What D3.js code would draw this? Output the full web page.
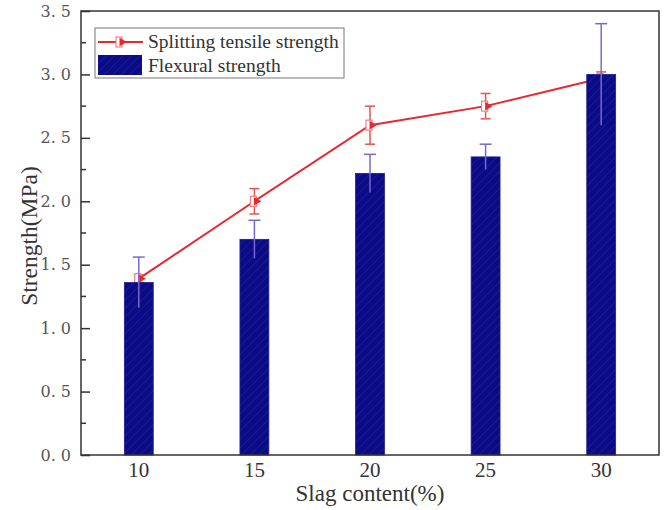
<!DOCTYPE html>
<html>
<head>
<meta charset="utf-8">
<script src="https://cdn.jsdelivr.net/npm/d3@7"></script>
<style>
  body { margin: 0; background: #fff; }
</style>
</head>
<body>
<svg id="canvas" width="667" height="510" font-family='"Liberation Serif", "Times New Roman", serif'></svg>
<script>
let categories = [10, 15, 20, 25, 30];
let flexural = [1.36, 1.70, 2.22, 2.35, 3.00];
let flexuralErr = [0.20, 0.15, 0.15, 0.10, 0.40];
let splitting = [1.39, 2.00, 2.60, 2.75, 2.97];
let splittingErr = [0.03, 0.10, 0.15, 0.10, 0.05];
let yTicks = [0, 0.5, 1.0, 1.5, 2.0, 2.5, 3.0, 3.5];

let svg = d3.select('#canvas');
let plotLeft = 81, plotRight = 659, plotTop = 11, plotBottom = 455;
let serif = '"Liberation Serif", "Times New Roman", serif';

let x = d3.scaleBand()
    .domain(categories)
    .range([plotLeft, plotRight])
    .paddingInner(0.75)
    .paddingOuter(0.375);
let y = d3.scaleLinear().domain([0, 3.5]).range([plotBottom, plotTop]);

let cx = (d) => x(d) + x.bandwidth() / 2;

// hatch pattern for the bars
let defs = svg.append('defs');
let pat = defs.append('pattern')
    .attr('id', 'hatch')
    .attr('patternUnits', 'userSpaceOnUse')
    .attr('width', 6).attr('height', 6)
    .attr('patternTransform', 'rotate(45)');
pat.append('rect').attr('width', 6).attr('height', 6).attr('fill', '#0b0b86');
pat.append('line').attr('x1', 0).attr('y1', 0).attr('x2', 0).attr('y2', 6)
    .attr('stroke', '#1f1fa0').attr('stroke-width', 1.5);

// axes
let yAxis = d3.axisLeft(y).tickValues(yTicks).tickSizeInner(-9).tickSizeOuter(0).tickPadding(10)
    .tickFormat((d) => d.toFixed(1).replace('.', '. '));
let gy = svg.append('g').attr('transform', `translate(${plotLeft},0)`).call(yAxis);
gy.select('.domain').remove();
gy.selectAll('line').attr('stroke', '#333').attr('stroke-width', 1.5);
gy.attr('font-family', '"DejaVu Serif", serif');
gy.selectAll('text').attr('font-size', 16).attr('fill', '#555');

// minor ticks
svg.append('g').selectAll('line')
    .data(d3.range(0.25, 3.5, 0.5))
    .enter().append('line')
    .attr('x1', plotLeft).attr('x2', plotLeft + 5)
    .attr('y1', (d) => y(d)).attr('y2', (d) => y(d))
    .attr('stroke', '#333').attr('stroke-width', 1.5);

let xAxis = d3.axisBottom(x).tickSize(0).tickPadding(7);
let gx = svg.append('g').attr('transform', `translate(0,${plotBottom})`).call(xAxis);
gx.select('.domain').remove();
gx.attr('font-family', serif);
gx.selectAll('text').attr('font-size', 21).attr('fill', '#333');

// splitting tensile line
let line = d3.line().x((d, i) => cx(categories[i])).y((d) => y(d));
svg.append('path')
    .datum(splitting)
    .attr('d', line)
    .attr('fill', 'none')
    .attr('stroke', '#e8282c')
    .attr('stroke-width', 2);

let sErr = svg.append('g').selectAll('g')
    .data(splitting)
    .enter().append('g')
    .attr('stroke', '#e25555').attr('stroke-width', 1.5);
sErr.append('line')
    .attr('x1', (d, i) => cx(categories[i])).attr('x2', (d, i) => cx(categories[i]))
    .attr('y1', (d, i) => y(d + splittingErr[i])).attr('y2', (d, i) => y(d - splittingErr[i]));
sErr.append('line')
    .attr('x1', (d, i) => cx(categories[i]) - 5).attr('x2', (d, i) => cx(categories[i]) + 5)
    .attr('y1', (d, i) => y(d + splittingErr[i])).attr('y2', (d, i) => y(d + splittingErr[i]));
sErr.append('line')
    .attr('x1', (d, i) => cx(categories[i]) - 5).attr('x2', (d, i) => cx(categories[i]) + 5)
    .attr('y1', (d, i) => y(d - splittingErr[i])).attr('y2', (d, i) => y(d - splittingErr[i]));

let drawMarker = (g, px, py) => {
    g.append('rect')
        .attr('x', px - 4).attr('y', py - 5).attr('width', 6).attr('height', 10)
        .attr('fill', '#fff').attr('stroke', '#f08080').attr('stroke-width', 1.2);
    g.append('path')
        .attr('d', d3.symbol(d3.symbolTriangle).size(32)())
        .attr('transform', `translate(${px + 2},${py}) rotate(90)`)
        .attr('fill', '#e8282c');
};
splitting.forEach((d, i) => drawMarker(svg.append('g'), cx(categories[i]), y(d)));

// flexural bars
svg.append('g').selectAll('rect')
    .data(flexural)
    .enter().append('rect')
    .attr('x', (d, i) => x(categories[i]))
    .attr('y', (d) => y(d))
    .attr('width', x.bandwidth())
    .attr('height', (d) => plotBottom - y(d))
    .attr('fill', 'url(#hatch)')
    .attr('stroke', '#20208a')
    .attr('stroke-width', 0.8);

let fErr = svg.append('g').selectAll('g')
    .data(flexural)
    .enter().append('g')
    .attr('stroke', '#7868cc').attr('stroke-width', 1.5);
fErr.append('line')
    .attr('x1', (d, i) => cx(categories[i])).attr('x2', (d, i) => cx(categories[i]))
    .attr('y1', (d, i) => y(d + flexuralErr[i])).attr('y2', (d, i) => y(d - flexuralErr[i]));
fErr.append('line')
    .attr('x1', (d, i) => cx(categories[i]) - 6).attr('x2', (d, i) => cx(categories[i]) + 6)
    .attr('y1', (d, i) => y(d + flexuralErr[i])).attr('y2', (d, i) => y(d + flexuralErr[i]));

// frame
svg.append('rect')
    .attr('x', plotLeft).attr('y', plotTop)
    .attr('width', plotRight - plotLeft).attr('height', plotBottom - plotTop)
    .attr('fill', 'none').attr('stroke', '#333').attr('stroke-width', 1.5);

// legend
let legend = svg.append('g');
legend.append('rect')
    .attr('x', 95).attr('y', 28).attr('width', 249).attr('height', 50)
    .attr('fill', '#fff').attr('stroke', '#777').attr('stroke-width', 1);
legend.append('line')
    .attr('x1', 98).attr('x2', 143).attr('y1', 42).attr('y2', 42)
    .attr('stroke', '#e8282c').attr('stroke-width', 2);
drawMarker(legend, 120, 42);
legend.append('text').attr('x', 148).attr('y', 48).attr('font-size', 19.5).attr('fill', '#333')
    .text('Splitting tensile strength');
legend.append('rect')
    .attr('x', 98).attr('y', 55).attr('width', 44).attr('height', 20)
    .attr('fill', 'url(#hatch)');
legend.append('text').attr('x', 148).attr('y', 72).attr('font-size', 19.5).attr('fill', '#333')
    .text('Flexural strength');

// axis titles
svg.append('text')
    .attr('transform', 'translate(37,236) rotate(-90)')
    .attr('text-anchor', 'middle')
    .attr('font-size', 23.5).attr('fill', '#333')
    .text('Strength(MPa)');
svg.append('text')
    .attr('x', 370).attr('y', 501)
    .attr('text-anchor', 'middle')
    .attr('font-size', 23).attr('fill', '#333')
    .text('Slag content(%)');
</script>
</body>
</html>
